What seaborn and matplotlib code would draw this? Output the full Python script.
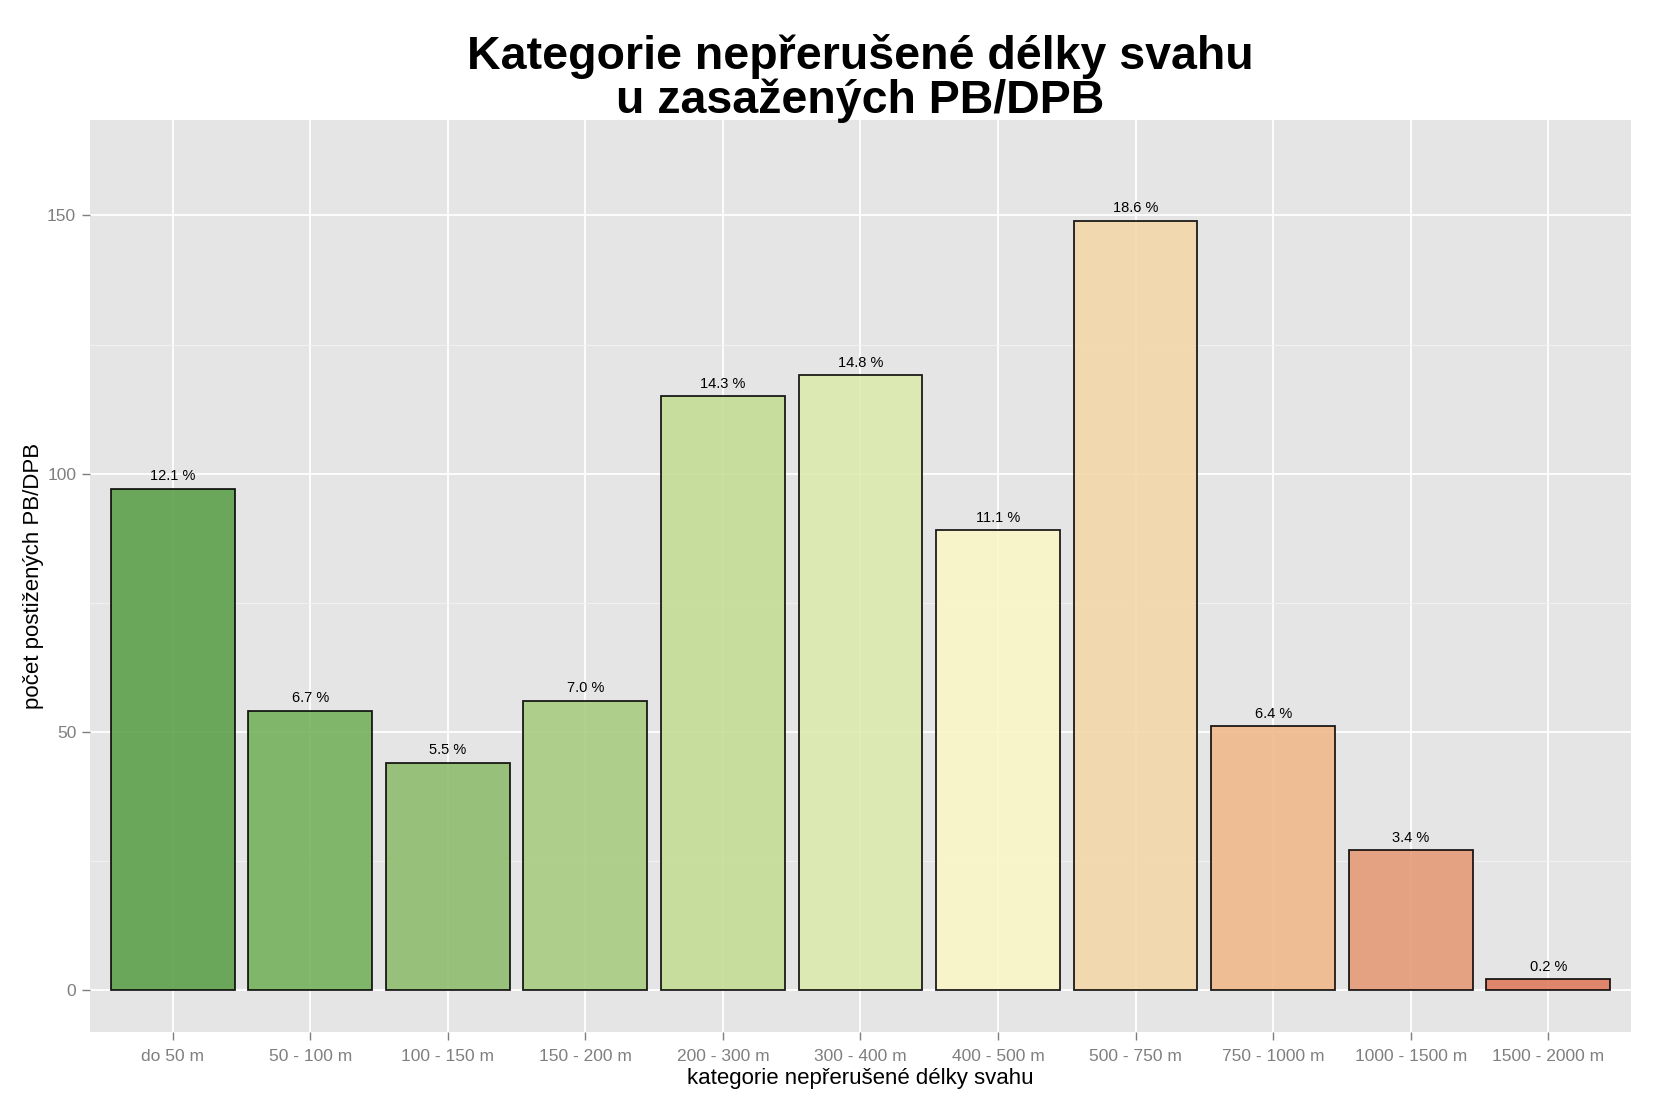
import numpy as np
import pandas as pd
import matplotlib
matplotlib.use("Agg")
import matplotlib.pyplot as plt
import seaborn as sns
from matplotlib.ticker import MultipleLocator
from matplotlib.colors import to_rgb

categories = ["do 50 m", "50 - 100 m", "100 - 150 m", "150 - 200 m", "200 - 300 m",
              "300 - 400 m", "400 - 500 m", "500 - 750 m", "750 - 1000 m",
              "1000 - 1500 m", "1500 - 2000 m"]
counts = [97, 54, 44, 56, 115, 119, 89, 149, 51, 27, 2]
percent_labels = ["12.1 %", "6.7 %", "5.5 %", "7.0 %", "14.3 %", "14.8 %",
                  "11.1 %", "18.6 %", "6.4 %", "3.4 %", "0.2 %"]
shown_colors = ["#6aa75a", "#80b66a", "#97c27a", "#aed08c", "#c7de9f", "#dee9b3",
                "#f7f5c9", "#f2d9ae", "#efbd93", "#e6a282", "#e0856b"]

bg = "#e5e5e5"
alpha = 0.88
bgc = np.array(to_rgb(bg))
palette = [tuple(np.clip((np.array(to_rgb(c)) - (1 - alpha) * bgc) / alpha, 0, 1)) for c in shown_colors]

df = pd.DataFrame({"cat": categories, "n": counts})

sns.set_theme(style="darkgrid")
plt.rcParams["font.family"] = ["Liberation Sans", "DejaVu Sans"]

fig = plt.figure(figsize=(16.59, 11.06), dpi=100)
ax = fig.add_axes([0.0543, 0.0669, 0.9287, 0.8246])
ax.set_facecolor(bg)

sns.barplot(data=df, x="cat", y="n", hue="cat", palette=palette, legend=False,
            saturation=1, width=0.9, edgecolor="black", linewidth=1.3, alpha=alpha,
            ax=ax, zorder=3)

for i, (v, lab) in enumerate(zip(counts, percent_labels)):
    ax.annotate(lab, (i, v), xytext=(0, 4), textcoords="offset points",
                ha="center", va="bottom", fontsize=10.5, color="black", zorder=4)

ax.set_xlim(-0.6, 10.6)
ax.set_ylim(-8.2, 168.5)
ax.yaxis.set_major_locator(MultipleLocator(50))
ax.yaxis.set_minor_locator(MultipleLocator(25))
ax.grid(which="major", color="white", linewidth=1.3, zorder=0)
ax.grid(which="minor", axis="y", color="#f2f2f2", linewidth=0.7, zorder=0)
ax.set_axisbelow(True)
for s in ax.spines.values():
    s.set_visible(False)

ax.tick_params(axis="both", which="major", colors="#7f7f7f", labelcolor="#7f7f7f",
               labelsize=12.5, length=6, width=1, direction="out", pad=4)
ax.tick_params(axis="both", which="minor", length=0)
ax.tick_params(axis="x", pad=6)
ax.tick_params(left=True, bottom=True)

ax.set_xlabel("kategorie nepřerušené délky svahu", fontsize=16, color="black", labelpad=3)
ax.set_ylabel("počet postižených PB/DPB", fontsize=16, color="black", labelpad=2)

ax_center = (0.0543 + 0.0543 + 0.9287) / 2
fig.text(ax_center, 0.9492, "Kategorie nepřerušené délky svahu", fontsize=33.5,
         fontweight="bold", color="black", ha="center", va="center")
fig.text(ax_center, 0.9092, "u zasažených PB/DPB", fontsize=33.5,
         fontweight="bold", color="black", ha="center", va="center")

fig.savefig("out.png", dpi=100, facecolor="white")
